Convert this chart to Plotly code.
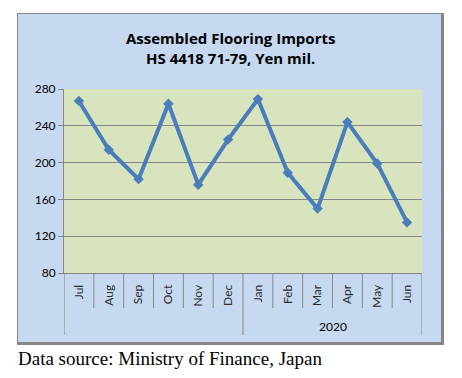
import plotly.graph_objects as go

months = ["Jul", "Aug", "Sep", "Oct", "Nov", "Dec", "Jan", "Feb", "Mar", "Apr", "May", "Jun"]
values = [267, 214, 182, 264, 176, 225, 269, 189, 150, 244, 199, 135]
year_label = "2020"
y_ticks = [80, 120, 160, 200, 240, 280]

W, H = 462, 378
L, R, T, B = 64, 422, 89, 273
PW, PH = R - L, B - T

def px(x):
    return (x - L) / PW

def py(y):
    return (B - y) / PH

idx = list(range(len(months)))

fig = go.Figure()
fig.add_trace(go.Scatter(
    x=idx, y=values, mode="lines+markers",
    line=dict(color="#4A7EBB", width=4),
    marker=dict(symbol="diamond", size=8, color="#4A7EBB"),
    showlegend=False, hoverinfo="skip",
))

shapes = []
# chart box border/shadow
shapes.append(dict(type="rect", xref="paper", yref="paper", x0=px(17), x1=px(444), y0=py(345), y1=py(13),
                   fillcolor="#868686", line=dict(width=0), layer="below"))
shapes.append(dict(type="rect", xref="paper", yref="paper", x0=px(18), x1=px(441), y0=py(342), y1=py(14),
                   fillcolor="#C6D9F1", line=dict(width=0), layer="below"))
# plot area
shapes.append(dict(type="rect", xref="paper", yref="paper", x0=0, x1=1, y0=0, y1=1,
                   fillcolor="#D7E4BD", line=dict(width=0), layer="below"))
# category dividers
for i in range(len(months) + 1):
    xpos = i - 0.5
    long = True if i in (0, len(months)) else months[i] == "Jan"
    ybot = py(335) if long else py(308)
    shapes.append(dict(type="line", xref="x", yref="paper", x0=xpos, x1=xpos, y0=0, y1=ybot,
                       line=dict(color="#868686", width=1)))

jan_i = months.index("Jan")
title_font = dict(family="Open Sans", size=15, color="#000")
annotations = [
    dict(text="<b>Assembled Flooring Imports</b>", xref="paper", yref="paper",
         x=px(230), y=py(38), showarrow=False, font=title_font,
         xanchor="center", yanchor="middle"),
    dict(text="<b>HS 4418 71-79, Yen mil.</b>", xref="paper", yref="paper",
         x=px(230), y=py(58), showarrow=False, font=title_font,
         xanchor="center", yanchor="middle"),
    dict(text=year_label, xref="x", yref="paper", x=(jan_i + len(months) - 1) / 2, y=py(326),
         showarrow=False, font=dict(family="Lato", size=12, color="#000"), xanchor="center", yanchor="middle"),
    dict(text="Data source: Ministry of Finance, Japan", xref="paper", yref="paper",
         x=px(16), y=py(358), showarrow=False, font=dict(family="Liberation Serif", size=19, color="#000"),
         xanchor="left", yanchor="middle"),
]

fig.update_layout(
    width=W, height=H,
    margin=dict(l=L, r=W - R, t=T, b=H - B, pad=0),
    paper_bgcolor="white", plot_bgcolor="rgba(0,0,0,0)",
    shapes=shapes, annotations=annotations,
    xaxis=dict(range=[-0.5, len(months) - 0.5], tickvals=idx, ticktext=months, tickangle=-90,
               showgrid=False, zeroline=False, showline=True, linecolor="#868686", linewidth=1,
               ticks="", ticklabelstandoff=6,
               tickfont=dict(family="Lato", size=12, color="#2a2a2a"), fixedrange=True),
    yaxis=dict(range=[80, 280], tickvals=y_ticks, showgrid=True, gridcolor="#868686", gridwidth=1,
               zeroline=False, showline=True, linecolor="#868686", linewidth=1,
               ticks="outside", ticklen=5, tickcolor="#868686",
               tickfont=dict(family="Lato", size=12, color="#000"), fixedrange=True),
)

fig.write_html("out.html", config={"displayModeBar": False},
               post_script="document.body.style.margin='0';")
